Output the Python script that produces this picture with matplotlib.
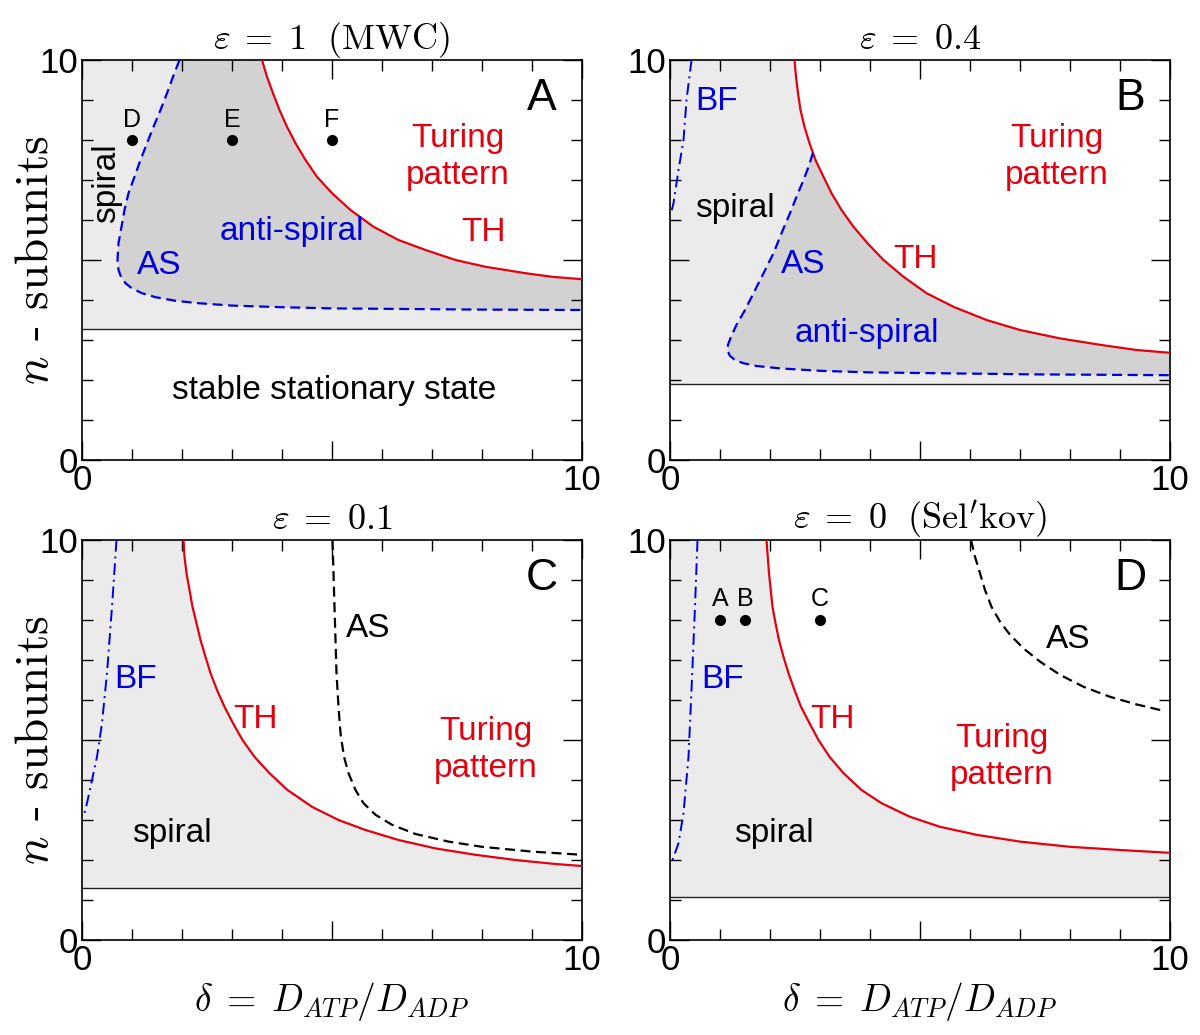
import matplotlib
matplotlib.use('Agg')
import matplotlib.pyplot as plt
from matplotlib.ticker import MultipleLocator

plt.rcParams['font.family'] = ['Liberation Sans', 'DejaVu Sans']
plt.rcParams['mathtext.fontset'] = 'cm'

RED = '#e3000f'
BLUE = '#0000dd'
LIGHT = '#ebebeb'
DARK = '#d2d2d2'

# ---- panel A : eps = 1 (MWC)
A_line = 3.27
A_TH_x = [3.6, 3.7, 3.82, 3.95, 4.1, 4.27, 4.47, 4.7, 5.0, 5.37, 5.83, 6.33, 6.87, 7.47, 8.07, 8.87, 9.4, 10]
A_TH_y = [10, 9.58, 9.17, 8.75, 8.33, 7.92, 7.5, 7.08, 6.67, 6.25, 5.83, 5.5, 5.25, 5.0, 4.83, 4.67, 4.58, 4.52]
A_AS_x = [1.95, 1.82, 1.7, 1.57, 1.43, 1.3, 1.17, 1.05, 0.93, 0.85, 0.79, 0.73, 0.71, 0.73, 0.78, 0.87,
          1.0, 1.2, 1.47, 1.87, 2.33, 3.0, 4.0, 5.0, 6.0, 8.0, 10]
A_AS_y = [10, 9.58, 9.17, 8.75, 8.33, 7.92, 7.5, 7.08, 6.67, 6.25, 5.83, 5.42, 5.0, 4.75, 4.58, 4.42,
          4.29, 4.17, 4.07, 3.98, 3.92, 3.86, 3.82, 3.79, 3.78, 3.76, 3.75]
A_pts_x = [1, 3, 5]
A_pts_y = [8, 8, 8]
A_pts_lab = ['D', 'E', 'F']

# ---- panel B : eps = 0.4
B_line = 1.9
B_BF_x = [0.43, 0.33, 0.27, 0.17, 0.07, 0.02]
B_BF_y = [10, 9.0, 8.0, 7.25, 6.42, 6.17]
B_TH_x = [2.49, 2.52, 2.56, 2.61, 2.69, 2.79, 2.91, 3.07, 3.23, 3.43, 3.67, 3.95, 4.27, 4.67, 5.13,
          5.67, 6.33, 7.0, 7.8, 8.6, 9.33, 10]
B_TH_y = [10, 9.58, 9.17, 8.75, 8.33, 7.92, 7.5, 7.08, 6.67, 6.25, 5.83, 5.42, 5.0, 4.58, 4.17,
          3.83, 3.5, 3.25, 3.04, 2.88, 2.75, 2.68]
B_AS_x = [2.86, 2.77, 2.67, 2.53, 2.4, 2.23, 2.07, 1.87, 1.67, 1.5, 1.33, 1.22, 1.16, 1.15, 1.2, 1.3,
          1.47, 1.73, 2.2, 3.0, 4.0, 5.33, 7.33, 10]
B_AS_y = [7.68, 7.33, 7.0, 6.58, 6.17, 5.67, 5.17, 4.67, 4.17, 3.75, 3.38, 3.08, 2.88, 2.73, 2.6, 2.5,
          2.42, 2.35, 2.29, 2.23, 2.19, 2.17, 2.14, 2.12]

# ---- panel C : eps = 0.1
C_line = 1.29
C_BF_x = [0.69, 0.6, 0.5, 0.4, 0.3, 0.2, 0.1, 0.03]
C_BF_y = [10, 8.33, 6.67, 5.42, 4.58, 4.0, 3.42, 3.08]
C_TH_x = [2.03, 2.05, 2.09, 2.15, 2.21, 2.29, 2.37, 2.47, 2.57, 2.7, 2.85, 3.02, 3.21, 3.45, 3.75,
          4.11, 4.6, 5.13, 5.67, 6.33, 7.07, 7.87, 8.67, 9.47, 10]
C_TH_y = [10, 9.58, 9.17, 8.75, 8.33, 7.92, 7.5, 7.08, 6.67, 6.25, 5.83, 5.42, 5.0, 4.58, 4.17,
          3.75, 3.33, 3.0, 2.75, 2.5, 2.29, 2.13, 2.0, 1.9, 1.85]
C_AS_x = [5.01, 5.03, 5.05, 5.07, 5.09, 5.13, 5.17, 5.24, 5.33, 5.47, 5.63, 5.87, 6.2, 6.67, 7.33,
          8.0, 9.0, 10]
C_AS_y = [10, 9.17, 8.33, 7.5, 6.67, 5.83, 5.17, 4.58, 4.17, 3.75, 3.42, 3.13, 2.88, 2.65, 2.46,
          2.33, 2.21, 2.13]

# ---- panel D : eps = 0 (Sel'kov)
D_line = 1.07
D_BF_x = [0.55, 0.5, 0.43, 0.37, 0.27, 0.17, 0.05]
D_BF_y = [10, 8.33, 6.25, 4.58, 3.17, 2.42, 2.0]
D_TH_x = [1.93, 1.98, 2.05, 2.11, 2.18, 2.27, 2.37, 2.49, 2.62, 2.79, 2.97, 3.19, 3.47, 3.83, 4.23,
          4.8, 5.4, 6.13, 7.0, 8.0, 9.0, 10]
D_TH_y = [10, 9.17, 8.33, 7.92, 7.5, 7.08, 6.67, 6.25, 5.83, 5.42, 5.0, 4.58, 4.17, 3.75, 3.42,
          3.08, 2.83, 2.63, 2.46, 2.33, 2.25, 2.18]
D_AS_x = [6.02, 6.1, 6.2, 6.3, 6.43, 6.6, 6.8, 7.07, 7.4, 7.8, 8.27, 8.8, 9.33, 9.87]
D_AS_y = [10, 9.58, 9.17, 8.75, 8.33, 7.96, 7.63, 7.29, 6.96, 6.63, 6.33, 6.08, 5.89, 5.73]
D_pts_x = [1, 1.5, 3]
D_pts_y = [8, 8, 8]
D_pts_lab = ['A', 'B', 'C']

titles = [r'$\varepsilon\;=\;1\ \ (\mathrm{MWC})$', r'$\varepsilon\;=\;0.4$',
          r'$\varepsilon\;=\;0.1$', r"$\varepsilon\;=\;0\ \ (\mathrm{Sel'kov})$"]
letters = ['A', 'B', 'C', 'D']

fig = plt.figure(figsize=(12, 10.35), dpi=100)
W, H = 1200, 1035
boxes = [(82, 60), (670, 60), (82, 540), (670, 540)]
axes = []
for (l, t) in boxes:
    ax = fig.add_axes([l / W, 1 - (t + 400) / H, 500 / W, 400 / H])
    axes.append(ax)

for i, ax in enumerate(axes):
    ax.set_xlim(0, 10)
    ax.set_ylim(0, 10)
    ax.set_xticks([0, 5, 10])
    ax.set_xticklabels(['0', '', '10'])
    ax.set_yticks([0, 5, 10])
    ax.set_yticklabels(['0', '', '10'])
    ax.xaxis.set_minor_locator(MultipleLocator(1))
    ax.yaxis.set_minor_locator(MultipleLocator(1))
    ax.tick_params(which='both', direction='in', top=True, right=True, labelsize=25, pad=3)
    ax.tick_params(which='major', length=14, width=1)
    ax.tick_params(which='minor', length=8, width=1)
    for s in ax.spines.values():
        s.set_linewidth(1.2)
    ax.set_title(titles[i], fontsize=26, pad=8)
    ax.text(9.2, 9.05, letters[i], fontsize=32, ha='center', va='center')

def base(ax, h, th_x, th_y):
    ax.axhspan(h, 10, color=LIGHT, lw=0, zorder=0)
    ax.fill(th_x + [10], th_y + [10], color='white', lw=0, zorder=0.5)
    ax.axhline(h, color='#222222', lw=1.0, zorder=2)
    ax.plot(th_x, th_y, color=RED, lw=1.6, zorder=3)

lab = dict(fontsize=24, ha='center', va='center')
dash = (0, (4.5, 2.5))
dashdot = (0, (6, 2.5, 1, 2.5))

# A
ax = axes[0]
base(ax, A_line, A_TH_x, A_TH_y)
ax.fill(A_AS_x + A_TH_x[::-1], A_AS_y + A_TH_y[::-1], color=DARK, lw=0, zorder=1)
ax.plot(A_AS_x, A_AS_y, color=BLUE, lw=1.6, ls=dash, zorder=3)
ax.plot(A_pts_x, A_pts_y, 'o', color='black', ms=7, zorder=4)
for x, y, s in zip(A_pts_x, A_pts_y, A_pts_lab):
    ax.text(x, y + 0.5, s, fontsize=18, ha='center', va='center')
ax.text(0.5, 6.92, 'spiral', rotation=90, **lab)
ax.text(4.2, 5.71, 'anti-spiral', color=BLUE, **lab)
ax.text(1.55, 4.85, 'AS', color=BLUE, **lab)
ax.text(7.52, 7.58, 'Turing\npattern', color=RED, linespacing=1.25, **lab)
ax.text(8.03, 5.68, 'TH', color=RED, **lab)
ax.text(5.05, 1.75, 'stable stationary state', **lab)

# B
ax = axes[1]
base(ax, B_line, B_TH_x, B_TH_y)
tail_x = [x for x in B_TH_x if x > B_AS_x[0]]
tail_y = [y for x, y in zip(B_TH_x, B_TH_y) if x > B_AS_x[0]]
ax.fill(B_AS_x + tail_x[::-1], B_AS_y + tail_y[::-1], color=DARK, lw=0, zorder=1)
ax.plot(B_AS_x, B_AS_y, color=BLUE, lw=1.6, ls=dash, zorder=3)
ax.plot(B_BF_x, B_BF_y, color=BLUE, lw=1.4, ls=dashdot, zorder=3)
ax.text(0.93, 8.96, 'BF', color=BLUE, **lab)
ax.text(1.3, 6.29, 'spiral', **lab)
ax.text(2.67, 4.88, 'AS', color=BLUE, **lab)
ax.text(4.9, 5.0, 'TH', color=RED, **lab)
ax.text(3.93, 3.17, 'anti-spiral', color=BLUE, **lab)
ax.text(7.73, 7.58, 'Turing\npattern', color=RED, linespacing=1.25, **lab)

# C
ax = axes[2]
base(ax, C_line, C_TH_x, C_TH_y)
ax.plot(C_BF_x, C_BF_y, color=BLUE, lw=1.4, ls=dashdot, zorder=3)
ax.plot(C_AS_x, C_AS_y, color='black', lw=1.6, ls=dash, zorder=3)
ax.text(1.07, 6.5, 'BF', color=BLUE, **lab)
ax.text(3.48, 5.5, 'TH', color=RED, **lab)
ax.text(5.73, 7.79, 'AS', **lab)
ax.text(8.07, 4.75, 'Turing\npattern', color=RED, linespacing=1.25, **lab)
ax.text(1.79, 2.67, 'spiral', **lab)

# D
ax = axes[3]
base(ax, D_line, D_TH_x, D_TH_y)
ax.plot(D_BF_x, D_BF_y, color=BLUE, lw=1.4, ls=dashdot, zorder=3)
ax.plot(D_AS_x, D_AS_y, color='black', lw=1.6, ls=dash, zorder=3)
ax.plot(D_pts_x, D_pts_y, 'o', color='black', ms=7, zorder=4)
for x, y, s in zip(D_pts_x, D_pts_y, D_pts_lab):
    ax.text(x, y + 0.52, s, fontsize=18, ha='center', va='center')
ax.text(1.05, 6.5, 'BF', color=BLUE, **lab)
ax.text(3.25, 5.5, 'TH', color=RED, **lab)
ax.text(7.97, 7.52, 'AS', **lab)
ax.text(6.63, 4.58, 'Turing\npattern', color=RED, linespacing=1.25, **lab)
ax.text(2.08, 2.67, 'spiral', **lab)

for ax in (axes[0], axes[2]):
    ax.set_ylabel(r'$n$ - subunits', fontsize=34, family='cmr10')
    ax.yaxis.set_label_coords(-0.05, 0.5)
for ax in (axes[2], axes[3]):
    ax.set_xlabel(r'$\delta\;=\;D_{ATP}/D_{ADP}$', fontsize=27, labelpad=2)

fig.savefig('out.png', dpi=100)
